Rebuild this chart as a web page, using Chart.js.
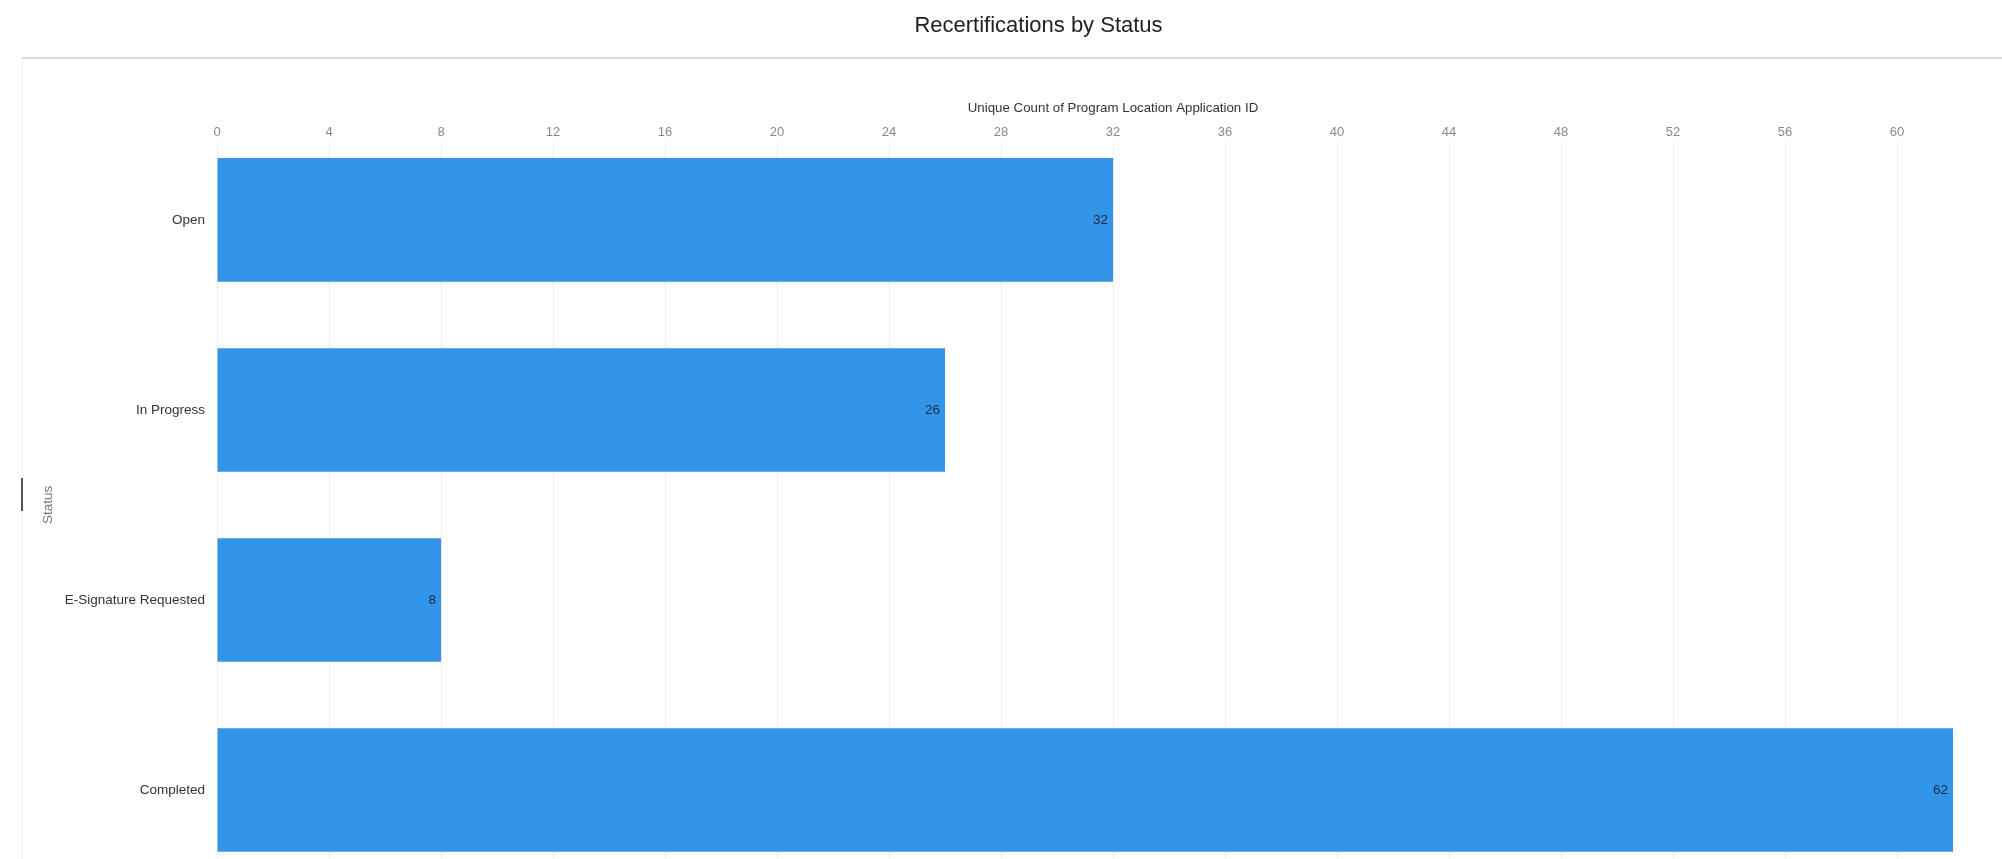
<!DOCTYPE html>
<html>
<head>
<meta charset="utf-8">
<script src="https://cdn.jsdelivr.net/npm/chart.js@4"></script>
<style>
  html, body { margin: 0; padding: 0; background: #ffffff; overflow: hidden; width: 2002px; height: 859px; }
  #title { position: absolute; left: 0; top: 14px; width: 2077px; text-align: center;
           font-family: Arial, "Liberation Sans", sans-serif; font-size: 22px; line-height: 22px; color: #222; z-index: 2; }
  #hline { position: absolute; left: 22px; top: 57px; width: 1990px; height: 2px; background: #d9d9d9; z-index: 2; }
  #vline { position: absolute; left: 22px; top: 59px; width: 1px; height: 820px; background: #f0f0f0; z-index: 2; }
  #handle { position: absolute; left: 21px; top: 478px; width: 2px; height: 33px; background: #555; z-index: 3; }
  #c { position: absolute; left: 0; top: 0; }
</style>
</head>
<body>
<div id="title">Recertifications by Status</div>
<div id="hline"></div>
<div id="vline"></div>
<div id="handle"></div>
<canvas id="c" width="2020" height="888"></canvas>
<script>
const categories = ["Open", "In Progress", "E-Signature Requested", "Completed"];
const counts = [32, 26, 8, 62];
const xTickMin = 0;
const xTickMax = 64;
const xTickStep = 4;
const xAxisTitle = "Unique Count of Program Location Application ID";
const yAxisTitle = "Status";

const FONT = 'Arial, "Liberation Sans", sans-serif';

const valueLabels = {
  id: 'valueLabels',
  afterDatasetsDraw(chart) {
    const ctx = chart.ctx;
    const meta = chart.getDatasetMeta(0);
    ctx.save();
    ctx.font = '13.5px ' + FONT;
    ctx.fillStyle = '#1c2b45';
    ctx.textAlign = 'right';
    ctx.textBaseline = 'middle';
    meta.data.forEach((el, i) => {
      ctx.fillText(String(counts[i]), el.x - 5, el.y);
    });
    ctx.restore();
  }
};

new Chart(document.getElementById('c'), {
  type: 'bar',
  data: {
    datasets: [{
      data: categories.map((c, i) => ({ x: counts[i], y: i })),
      backgroundColor: '#3395ea',
      borderWidth: 0,
      barPercentage: 0.65,
      categoryPercentage: 1
    }]
  },
  options: {
    indexAxis: 'y',
    responsive: false,
    animation: false,
    layout: { padding: { top: 96.2, right: 11, bottom: 0, left: 0 } },
    plugins: { legend: { display: false }, tooltip: { enabled: false }, title: { display: false } },
    scales: {
      x: {
        type: 'linear',
        position: 'top',
        min: xTickMin,
        max: xTickMax,
        ticks: { stepSize: xTickStep, color: '#888', font: { family: FONT, size: 13 }, padding: 2, maxRotation: 0 },
        grid: { color: '#ebebeb', drawTicks: false },
        border: { display: false },
        title: { display: true, text: xAxisTitle, color: '#333', font: { family: FONT, size: 13.3 }, padding: { top: 4, bottom: 6.2 } }
      },
      y: {
        type: 'linear',
        bounds: 'data',
        offset: false,
        reverse: true,
        min: -0.41,
        max: categories.length - 1 + 0.41,
        afterBuildTicks(scale) { scale.ticks = categories.map((c, i) => ({ value: i })); },
        afterFit(scale) { scale.width = 217; },
        ticks: {
          autoSkip: false,
          color: '#333',
          font: { family: FONT, size: 13.5 },
          padding: 12,
          callback: (v) => (Number.isInteger(v) && categories[v] !== undefined) ? categories[v] : ''
        },
        grid: { display: false, drawTicks: false, offset: false },
        border: { display: false },
        title: { display: true, text: yAxisTitle, color: '#777', font: { family: FONT, size: 13.5 }, padding: { top: 40, bottom: 0 } }
      }
    }
  },
  plugins: [valueLabels]
});
</script>
</body>
</html>
